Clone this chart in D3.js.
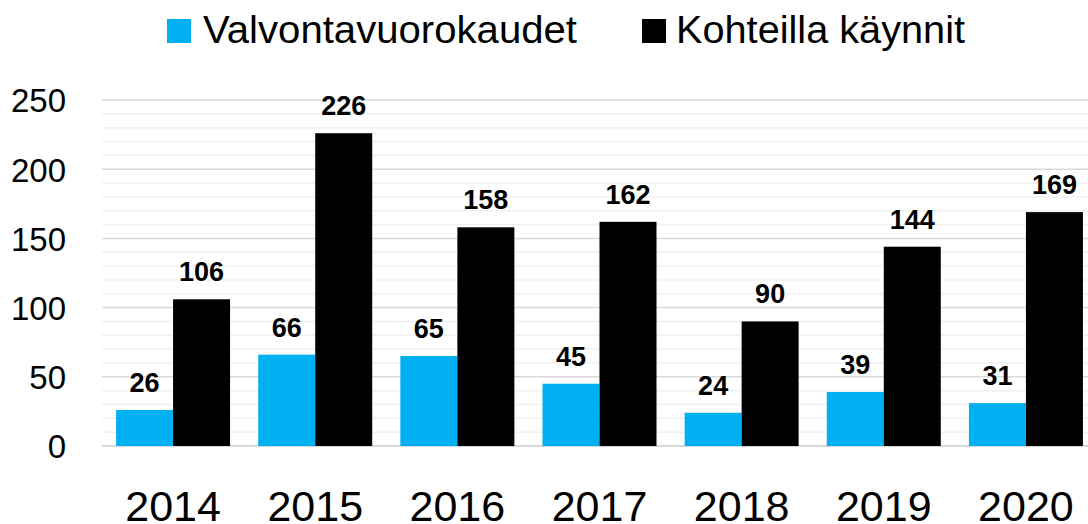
<!DOCTYPE html>
<html><head><meta charset="utf-8">
<script src="https://cdn.jsdelivr.net/npm/d3@7"></script>
<style>body{margin:0;background:#fff}svg{display:block}text{font-family:"Liberation Sans",Arial,sans-serif}</style>
</head><body>
<svg id="c" width="1088" height="524"></svg>
<script>
const years = ["2014","2015","2016","2017","2018","2019","2020"];
const valvonta = [26,66,65,45,24,39,31];
const kaynnit = [106,226,158,162,90,144,169];
const seriesNames = ["Valvontavuorokaudet","Kohteilla käynnit"];
const colors = ["#00B0F0","#000000"];
const yTicks = [0,50,100,150,200,250];

const svg = d3.select("#c");
const L = 102, R = 1097, T = 100, B = 446;
const x = d3.scaleBand().domain(years).range([L,R]).paddingInner(0.198).paddingOuter(0.099);
const xs = d3.scaleBand().domain([0,1]).range([0,x.bandwidth()]);
const y = d3.scaleLinear().domain([0,250]).range([B,T]);

// minor gridlines
const minor = d3.range(10,251,10).filter(v=>v%50!==0);
svg.append("g").selectAll("line").data(minor).join("line")
  .attr("x1",L).attr("x2",R).attr("y1",d=>y(d)).attr("y2",d=>y(d))
  .attr("stroke","#f0f0f0").attr("stroke-width",1.5);
svg.append("g").selectAll("line").data(yTicks).join("line")
  .attr("x1",L).attr("x2",R).attr("y1",d=>y(d)).attr("y2",d=>y(d))
  .attr("stroke","#d9d9d9").attr("stroke-width",d=>d===0?2:1.5);

// y axis labels
const yAxis = d3.axisLeft(y).tickValues(yTicks).tickSize(0).tickPadding(0);
const ga = svg.append("g").attr("transform",`translate(66,0)`).call(yAxis);
ga.select(".domain").remove();
ga.selectAll("text").attr("font-size",33).attr("fill","#000").attr("font-family","Liberation Sans, Arial, sans-serif").attr("dy","0.36em");

// x axis labels
const xAxis = d3.axisBottom(x).tickSize(0).tickPadding(0);
const gx = svg.append("g").attr("transform",`translate(0,${B})`).call(xAxis);
gx.select(".domain").remove();
gx.selectAll("text").attr("font-size",43).attr("fill","#000").attr("font-family","Liberation Sans, Arial, sans-serif").attr("dy",null).attr("y",75);

const data = years.map((yr,i)=>({yr, vals:[valvonta[i],kaynnit[i]]}));
const groups = svg.append("g").selectAll("g").data(data).join("g")
  .attr("transform",d=>`translate(${x(d.yr)},0)`);
groups.selectAll("rect").data(d=>d.vals.map((v,k)=>({v,k}))).join("rect")
  .attr("x",d=>xs(d.k)).attr("width",xs.bandwidth())
  .attr("y",d=>y(d.v)).attr("height",d=>B-y(d.v))
  .attr("fill",d=>colors[d.k]);
groups.selectAll("text").data(d=>d.vals.map((v,k)=>({v,k}))).join("text")
  .attr("x",d=>xs(d.k)+xs.bandwidth()/2).attr("y",d=>y(d.v)-18)
  .attr("text-anchor","middle").attr("font-size",27).attr("font-weight","bold")
  .text(d=>d.v);

// legend
const legend = [{x:167,tx:203,tl:374},{x:642,tx:676,tl:289}];
legend.forEach((l,i)=>{
  svg.append("rect").attr("x",l.x).attr("y",19).attr("width",24).attr("height",24).attr("fill",colors[i]);
  svg.append("text").attr("x",l.tx).attr("y",43).attr("font-size",38)
    .attr("textLength",l.tl).attr("lengthAdjust","spacingAndGlyphs").text(seriesNames[i]);
});
</script>
</body></html>
